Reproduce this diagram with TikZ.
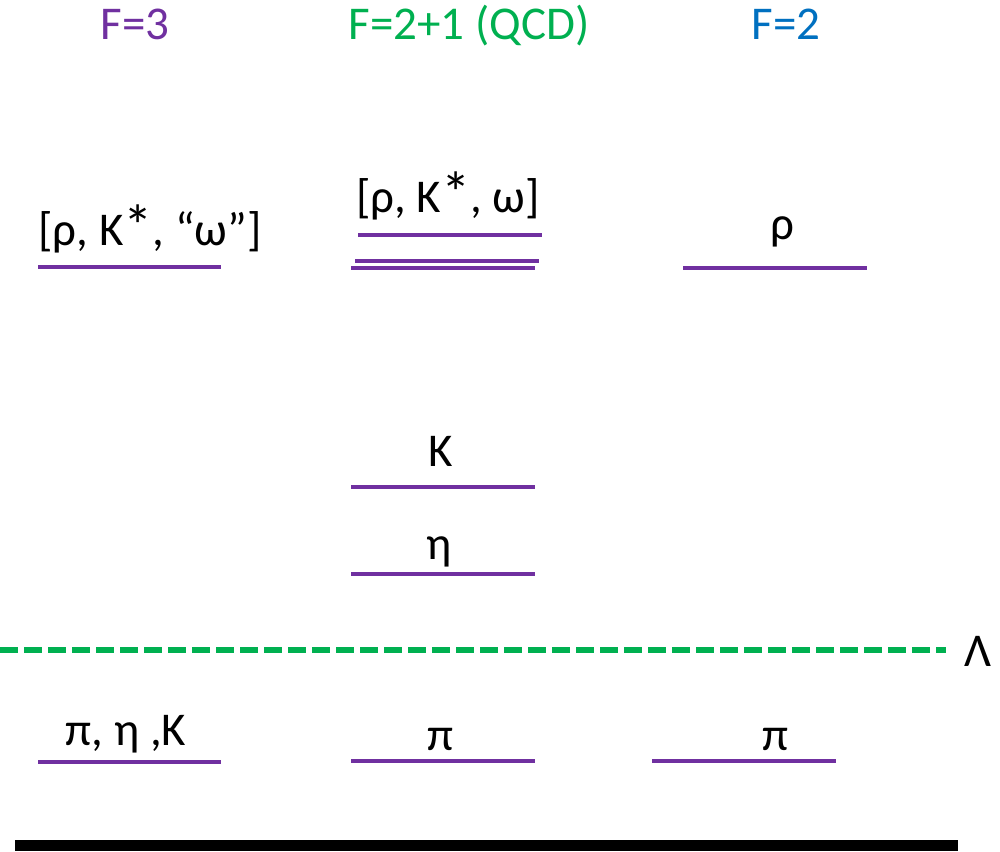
\documentclass[tikz,border=0pt]{standalone}
\usepackage{graphicx}
\usepackage{fontspec}
\setmainfont{Carlito}
\definecolor{lvpurple}{HTML}{7030A0}
\definecolor{lvgreen}{HTML}{00B050}
\definecolor{lvblue}{HTML}{0070C0}
\newcommand{\bigast}{\raisebox{-1pt}{\scalebox{1.25}{*}}}
\tikzset{
  lbl/.style={anchor=base, inner sep=0pt, font=\fontsize{47}{56}\selectfont},
  level/.style={draw=lvpurple, line width=3.5pt},
  cutoff/.style={draw=lvgreen, line width=5.5pt, dash pattern=on 18pt off 6pt},
}
\begin{document}
\begin{tikzpicture}[x=1pt,y=-1pt]
\useasboundingbox (0,0) rectangle (1000,851);
% headers
\node[lbl, text=lvpurple] (h3) at (135,40) {F=3};
\node[lbl, text=lvgreen] (h21) at (469,40) {F=2+1 (QCD)};
\node[lbl, text=lvblue] (h2) at (786,40) {F=2};
% F=3 column
\node[lbl] (vec3) at (150,245) {[ρ, K\bigast, “ω”]};
\path[level] (38,267) -- (221,267);
\node[lbl] (ps3) at (126,745) {π, η ,K};
\path[level] (38,762) -- (221,762);
% F=2+1 column
\node[lbl] (vec21) at (448,212) {[ρ, K\bigast, ω]};
\path[level] (358,235) -- (542,235);
\path[level] (355,261) -- (539,261);
\path[level] (351,268) -- (535,268);
\node[lbl] (k21) at (441,466) {K};
\path[level] (351,487) -- (535,487);
\node[lbl] (eta21) at (439,559) {η};
\path[level] (351,574) -- (535,574);
\node[lbl] (pi21) at (440,750) {π};
\path[level] (351,761) -- (535,761);
% F=2 column
\node[lbl] (rho2) at (782,239) {ρ};
\path[level] (683,268) -- (867,268);
\node[lbl] (pi2) at (775,750) {π};
\path[level] (652,761) -- (836,761);
% cutoff
\path[cutoff] (0,650) -- (946,650);
\node[lbl] (lam) at (978,666) {Λ};
% baseline bar
\fill[black] (15,840) rectangle (958,851);
\end{tikzpicture}
\end{document}
